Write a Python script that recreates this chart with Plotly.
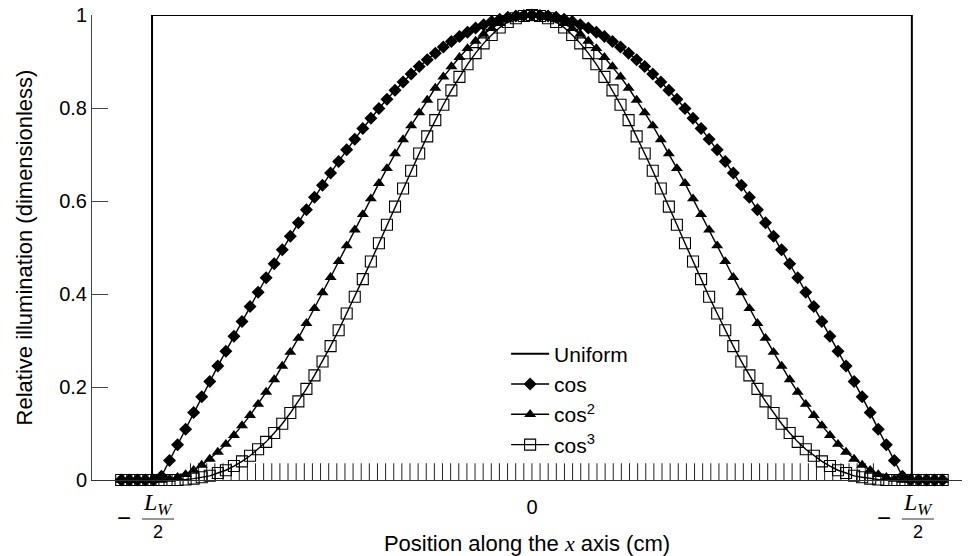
import plotly.graph_objects as go

# ---------------- data ----------------
# positions (units of L_W/2) for x >= 0; curve is symmetric about 0
x_half = [0.0, 0.0212, 0.0424, 0.0636, 0.0848, 0.106, 0.1272, 0.1484, 0.1696, 0.1908,
          0.212, 0.2332, 0.2544, 0.2756, 0.2968, 0.318, 0.3392, 0.3604, 0.3816, 0.4028,
          0.424, 0.4452, 0.4664, 0.4876, 0.5088, 0.53, 0.5512, 0.5724, 0.5936, 0.6148,
          0.636, 0.6572, 0.6784, 0.6996, 0.7208, 0.742, 0.7632, 0.7844, 0.8056, 0.8268,
          0.848, 0.8692, 0.8904, 0.9116, 0.9328, 0.954, 0.9752, 0.9964, 1.0176, 1.0388,
          1.06, 1.0812]
cos1_half = [1.000, 0.999, 0.998, 0.995, 0.991, 0.986, 0.979, 0.972, 0.963, 0.954,
             0.943, 0.931, 0.918, 0.904, 0.889, 0.873, 0.856, 0.838, 0.819, 0.799,
             0.778, 0.756, 0.733, 0.710, 0.685, 0.660, 0.634, 0.608, 0.581, 0.553,
             0.524, 0.495, 0.465, 0.435, 0.404, 0.373, 0.341, 0.309, 0.277, 0.245,
             0.212, 0.179, 0.145, 0.109, 0.076, 0.042, 0.008, 0.0, 0.0, 0.0,
             0.0, 0.0]
cos2_half = [1.000, 0.999, 0.995, 0.990, 0.982, 0.971, 0.959, 0.944, 0.928, 0.909,
             0.889, 0.867, 0.843, 0.817, 0.790, 0.762, 0.732, 0.702, 0.670, 0.638,
             0.605, 0.571, 0.538, 0.504, 0.470, 0.436, 0.403, 0.369, 0.337, 0.305,
             0.275, 0.245, 0.216, 0.189, 0.163, 0.139, 0.117, 0.096, 0.077, 0.060,
             0.045, 0.032, 0.021, 0.012, 0.006, 0.002, 0.0, 0.0, 0.0, 0.0,
             0.0, 0.0]
cos3_half = [1.000, 0.998, 0.993, 0.985, 0.973, 0.957, 0.939, 0.918, 0.894, 0.867,
             0.838, 0.807, 0.774, 0.739, 0.702, 0.665, 0.627, 0.588, 0.549, 0.509,
             0.470, 0.432, 0.394, 0.358, 0.322, 0.288, 0.255, 0.225, 0.196, 0.169,
             0.144, 0.121, 0.101, 0.082, 0.066, 0.052, 0.040, 0.030, 0.021, 0.015,
             0.009, 0.006, 0.003, 0.001, 0.0, 0.0, 0.0, 0.0, 0.0, 0.0,
             0.0, 0.0]
uniform_x = [-1.0812, -1.0, -1.0, 1.0, 1.0, 1.0812]
uniform_y = [0, 0, 1, 1, 0, 0]

# short vertical sample marks along the bottom (x >= 0 half, mirrored)
tick_half = [0.0, 0.0214, 0.0428, 0.0642, 0.0856, 0.107, 0.1284, 0.1498, 0.1712, 0.1926,
             0.214, 0.2354, 0.2568, 0.2782, 0.2996, 0.321, 0.3424, 0.3638, 0.3852, 0.4066,
             0.428, 0.4494, 0.4708, 0.4922, 0.5136, 0.535, 0.5564, 0.5778, 0.5992, 0.6206,
             0.642, 0.6634, 0.6848, 0.7062, 0.7276, 0.749, 0.7704, 0.7918, 0.8132, 0.8346,
             0.856, 0.8774, 0.8988]
tick_height = 0.036

y_tickvals = [0, 0.2, 0.4, 0.6, 0.8, 1]
y_ticktext = ["0", "0.2", "0.4", "0.6", "0.8", "1"]
x_tickvals = [-1, 0, 1]
x_ticktext = ["", "0", ""]
edge_positions = [-1, 1]

series_names = ["Uniform", "cos", "cos<sup>2</sup>", "cos<sup>3</sup>"]


def mirror(xh, yh):
    x = [-v for v in reversed(xh[1:])] + list(xh)
    y = list(reversed(yh[1:])) + list(yh)
    return x, y


x_full, c1 = mirror(x_half, cos1_half)
_, c2 = mirror(x_half, cos2_half)
_, c3 = mirror(x_half, cos3_half)
tick_pos = [-v for v in reversed(tick_half[1:])] + tick_half

seg_x, seg_y = [], []
for t in tick_pos:
    seg_x += [t, t, None]
    seg_y += [0, tick_height, None]

SANS = "Liberation Sans, Arial, sans-serif"
SERIF = "Liberation Serif, Times New Roman, serif"
FS = 20
TS = 22

fig = go.Figure()
fig.add_trace(go.Scatter(x=seg_x, y=seg_y, mode="lines", line=dict(color="#222", width=1),
                         showlegend=False, hoverinfo="skip"))
fig.add_trace(go.Scatter(x=uniform_x, y=uniform_y, mode="lines", name=series_names[0],
                         line=dict(color="black", width=2), cliponaxis=False))
fig.add_trace(go.Scatter(x=x_full, y=c1, mode="lines+markers", name=series_names[1],
                         line=dict(color="black", width=1.4),
                         marker=dict(symbol="diamond", size=10, color="black"),
                         cliponaxis=False))
fig.add_trace(go.Scatter(x=x_full, y=c2, mode="lines+markers", name=series_names[2],
                         line=dict(color="black", width=1.4),
                         marker=dict(symbol="triangle-up", size=10.5, color="black"),
                         cliponaxis=False))
fig.add_trace(go.Scatter(x=x_full, y=c3, mode="lines+markers", name=series_names[3],
                         line=dict(color="black", width=1.4),
                         marker=dict(symbol="square-open", size=11, color="black",
                                     line=dict(width=1.1, color="black")),
                         cliponaxis=False))

annotations = []
shapes = []
for xe in edge_positions:
    annotations.append(dict(x=xe, y=0, xref="x", yref="paper", text="\u2212", showarrow=False,
                            xshift=-28, yshift=-37, yanchor="middle",
                            font=dict(family=SANS, size=24, color="black")))
    annotations.append(dict(x=xe, y=0, xref="x", yref="paper",
                            text="<i>L</i><sub><i>W</i></sub>", showarrow=False,
                            xshift=6, yshift=-24, yanchor="middle",
                            font=dict(family=SERIF, size=24, color="black")))
    annotations.append(dict(x=xe, y=0, xref="x", yref="paper", text="2", showarrow=False,
                            xshift=6, yshift=-52, yanchor="middle",
                            font=dict(family=SANS, size=18, color="black")))
    shapes.append(dict(type="line", xref="x", yref="paper", xsizemode="pixel", ysizemode="pixel",
                       xanchor=xe, yanchor=0, x0=-10, x1=22, y0=-39, y1=-39,
                       line=dict(color="#333", width=1.2)))

fig.update_layout(
    width=970, height=556,
    margin=dict(l=92, r=8, t=15, b=76),
    paper_bgcolor="white", plot_bgcolor="white",
    font=dict(family=SANS, size=FS, color="black"),
    showlegend=True,
    legend=dict(x=0.476, y=0.315, xanchor="left", yanchor="top",
                bgcolor="rgba(0,0,0,0)", font=dict(family=SANS, size=21),
                itemwidth=38, tracegroupgap=0),
    xaxis=dict(range=[-1.158, 1.132], showgrid=False, zeroline=False,
               automargin=False,
               showline=True, linecolor="#333", linewidth=1.2,
               tickvals=x_tickvals, ticktext=x_ticktext, ticks="",
               ticklabelstandoff=9,
               tickfont=dict(family=SANS, size=FS),
               title=dict(text="Position along the <span style=\"font-family:'Liberation Serif'\"><i>x</i></span> axis (cm)",
                          font=dict(family=SANS, size=TS), standoff=22)),
    yaxis=dict(range=[0, 1], showgrid=False, zeroline=False,
               automargin=False,
               showline=True, linecolor="#444", linewidth=1,
               tickvals=y_tickvals, ticktext=y_ticktext,
               ticks="inside", ticklen=16, tickcolor="#444", tickwidth=1,
               tickfont=dict(family=SANS, size=FS),
               title=dict(text="Relative illumination (dimensionless)",
                          font=dict(family=SANS, size=TS), standoff=20)),
    annotations=annotations,
    shapes=shapes,
)

fig.write_html("out.html")
